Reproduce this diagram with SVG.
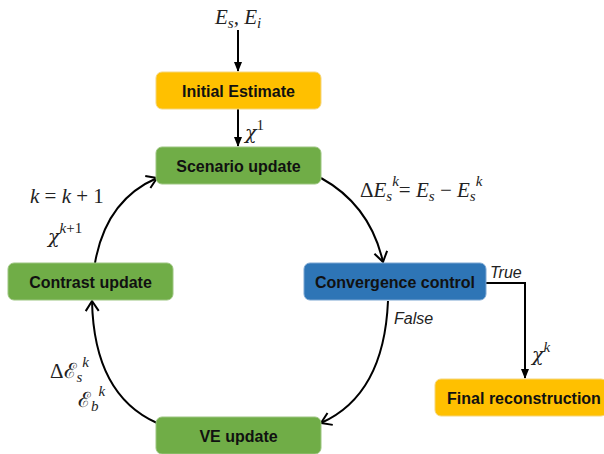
<svg xmlns="http://www.w3.org/2000/svg" width="604" height="454" viewBox="0 0 604 454">
<style>
.node{stroke-width:1}
.lbl{font-family:"Liberation Sans",Arial,sans-serif;font-weight:bold;font-size:16px;fill:#111;text-anchor:middle}
.m{font-family:"Liberation Serif","DejaVu Serif",serif;font-style:italic;font-size:21px;fill:#222}
.ms{font-size:15px}
.u{font-style:normal}
.chi{font-family:"DejaVu Serif",serif;font-size:19px}
.it{font-family:"Liberation Sans",Arial,sans-serif;font-style:italic;font-size:16px;fill:#222}
.c{fill:none;stroke:#000;stroke-width:2}
</style>
<defs>
<marker id="open" markerUnits="userSpaceOnUse" markerWidth="14" markerHeight="16" refX="11" refY="7" orient="auto" viewBox="0 0 14 14">
<path d="M1,0.5 L11,7 L1,13.5" fill="none" stroke="#000" stroke-width="2"/>
</marker>
<marker id="fill" markerUnits="userSpaceOnUse" markerWidth="10" markerHeight="8" refX="9" refY="4" orient="auto" viewBox="0 0 10 8">
<path d="M0,0 L10,4 L0,8 Z" fill="#000"/>
</marker>
</defs>
<g id="connectors">
<line class="c" x1="238" y1="30" x2="238" y2="71" marker-end="url(#fill)"/>
<line class="c" x1="238" y1="109" x2="238" y2="146" marker-end="url(#fill)"/>
<path class="c" d="M321,178 Q370,205 383,262" marker-end="url(#open)"/>
<path class="c" d="M388,301 Q384,395 321,423" marker-end="url(#open)"/>
<path class="c" d="M157,423 Q94,395 92,301" marker-end="url(#open)"/>
<path class="c" d="M95,263 Q106,200 157,178" marker-end="url(#open)"/>
<polyline class="c" points="486,283 525,283 525,378" marker-end="url(#fill)"/>
</g>
<g id="initial-estimate">
<rect class="node" x="156" y="72" width="165" height="37" rx="6" fill="#FFC000" stroke="#F5D57A"/>
<text class="lbl" x="238.5" y="96.5">Initial Estimate</text>
</g>
<g id="scenario-update">
<rect class="node" x="156" y="147" width="165" height="37" rx="6" fill="#70AD47" stroke="#9CC580"/>
<text class="lbl" x="238.5" y="171.5">Scenario update</text>
</g>
<g id="contrast-update">
<rect class="node" x="8" y="263" width="165" height="37" rx="6" fill="#70AD47" stroke="#9CC580"/>
<text class="lbl" x="90.5" y="287.5">Contrast update</text>
</g>
<g id="convergence-control">
<rect class="node" x="304" y="263" width="182" height="37" rx="6" fill="#2E75B6" stroke="#7AA6D2"/>
<text class="lbl" x="395" y="287.5">Convergence control</text>
</g>
<g id="ve-update">
<rect class="node" x="156" y="417" width="165" height="37" rx="6" fill="#70AD47" stroke="#9CC580"/>
<text class="lbl" x="238.5" y="441.5">VE update</text>
</g>
<g id="final-reconstruction">
<rect class="node" x="435" y="379" width="172" height="37" rx="6" fill="#FFC000" stroke="#F5D57A"/>
<text class="lbl" x="524" y="403.5">Final reconstruction</text>
</g>
<g id="labels">
<text class="m" x="215" y="24">E<tspan class="ms" dy="4">s</tspan><tspan dy="-4">, E</tspan><tspan class="ms" dy="4">i</tspan></text>
<text class="m" x="245" y="139"><tspan class="chi">χ</tspan><tspan class="ms u" dy="-9">1</tspan></text>
<text class="m" x="30" y="203">k <tspan class="u">=</tspan> k <tspan class="u">+ 1</tspan></text>
<text class="m" x="48" y="243"><tspan class="chi">χ</tspan><tspan class="ms" dy="-10">k<tspan class="u">+1</tspan></tspan></text>
<text class="m" x="360" y="197"><tspan class="u">Δ</tspan>E<tspan class="ms" dy="4">s</tspan><tspan class="ms" dy="-15">k</tspan><tspan class="u" dy="11">= </tspan>E<tspan class="ms" dy="4">s</tspan><tspan class="u" dy="-4"> − </tspan>E<tspan class="ms" dy="4">s</tspan><tspan class="ms" dy="-15">k</tspan></text>
<text class="m" x="50" y="378"><tspan class="u">Δℰ</tspan><tspan class="ms" dy="4">s</tspan><tspan class="ms" dy="-15">k</tspan></text>
<text class="m" x="78" y="407"><tspan class="u">ℰ</tspan><tspan class="ms" dy="4">b</tspan><tspan class="ms" dy="-15">k</tspan></text>
<text class="m" x="532" y="361"><tspan class="chi">χ</tspan><tspan class="ms" dy="-9">k</tspan></text>
<text class="it" x="490" y="278">True</text>
<text class="it" x="394" y="324">False</text>
</g>
</svg>
